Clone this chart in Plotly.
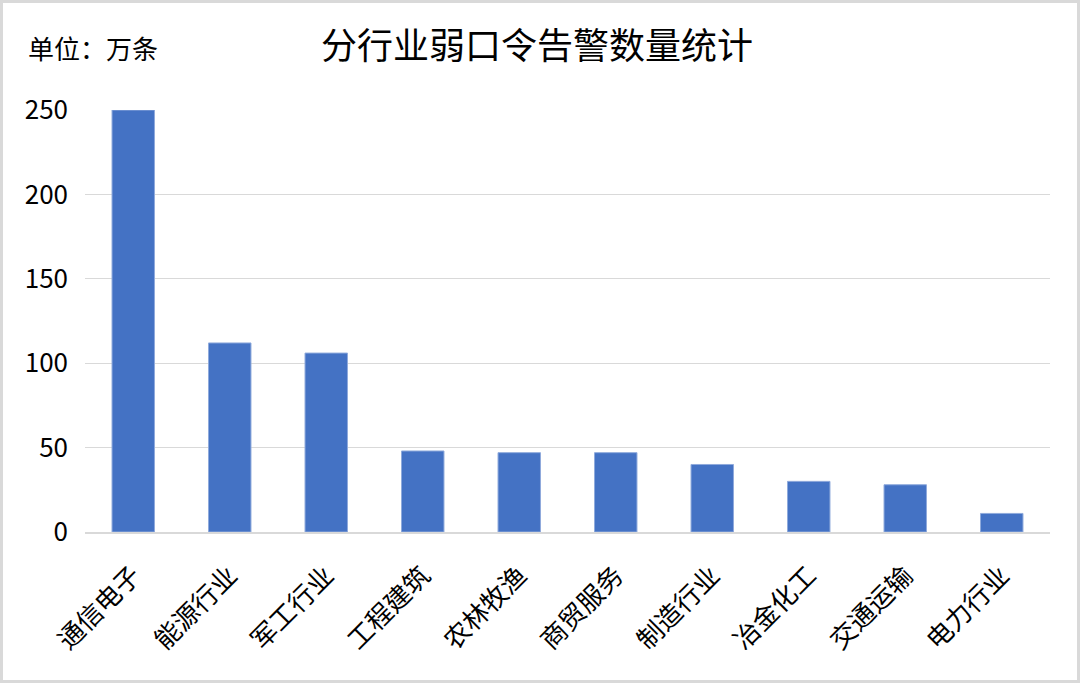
import plotly.graph_objects as go

categories = ["通信电子", "能源行业", "军工行业", "工程建筑", "农林牧渔",
              "商贸服务", "制造行业", "冶金化工", "交通运输", "电力行业"]
values = [250, 112, 106, 48, 47, 47, 40, 30, 28, 11]
y_ticks = [0, 50, 100, 150, 200, 250]

W, H = 1080, 683
ML, MR, MT, MB = 85, 30, 110, 151
PW, PH = W - ML - MR, H - MT - MB

font_family = "Noto Sans CJK SC, Microsoft YaHei, sans-serif"

fig = go.Figure(go.Bar(
    x=categories, y=values,
    marker=dict(color="#4472c4", line=dict(color="#8faadc", width=1)),
    width=0.44,
))

fig.update_layout(
    width=W, height=H,
    margin=dict(l=ML, r=MR, t=MT, b=MB),
    paper_bgcolor="white", plot_bgcolor="white",
    font=dict(family=font_family, color="#000000"),
    showlegend=False,
    title=dict(text="分行业弱口令告警数量统计", x=537 / W, xanchor="center",
               y=1 - 46 / H, yanchor="middle",
               font=dict(size=36, family=font_family, color="#000")),
    xaxis=dict(tickangle=-45, tickfont=dict(size=26, family=font_family),
               showgrid=False, showline=True, linecolor="#d9d9d9", linewidth=2,
               ticks="", range=[-0.5, 9.5], ticklabelstandoff=16),
    yaxis=dict(range=[0, 250], tickvals=y_ticks, tickfont=dict(size=26, family=font_family),
               showgrid=True, gridcolor="#d9d9d9", gridwidth=1, zeroline=False,
               showline=False, ticks="", ticklabelstandoff=16),
    annotations=[dict(text="单位：万条", xref="paper", yref="paper",
                      x=-(ML - 26) / PW, xanchor="left",
                      y=1 + (MT - 47) / PH, yanchor="middle",
                      showarrow=False, font=dict(size=26, family=font_family, color="#000"))],
    shapes=[dict(type="rect", xref="paper", yref="paper",
                 x0=-(ML - 1.5) / PW, x1=1 + (MR - 1.5) / PW,
                 y0=-(MB - 1.5) / PH, y1=1 + (MT - 1.5) / PH,
                 line=dict(color="#d9d9d9", width=3), fillcolor="rgba(0,0,0,0)", layer="below")],
)

fig.write_html("out.html", config={"displayModeBar": False},
               post_script="document.body.style.margin='0';document.body.style.overflow='hidden';")
